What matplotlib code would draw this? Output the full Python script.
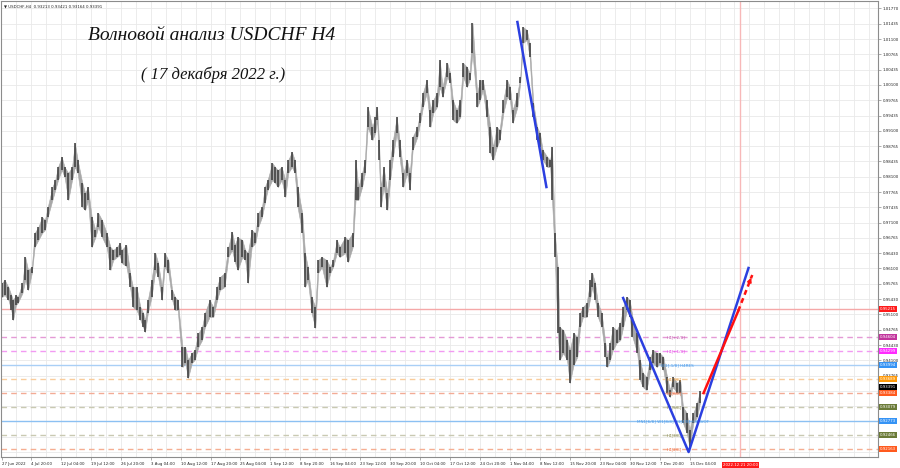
import matplotlib
matplotlib.use("Agg")
import matplotlib.pyplot as plt

# H4 candle ranges (bar index from the left edge, high, low)
bars = [2, 5, 9, 12, 14, 17, 19, 24, 27, 30,
        34, 37, 41, 45, 48, 51, 56, 59, 62, 66,
        69, 73, 77, 80, 83, 88, 91, 94, 98, 102,
        105, 109, 114, 118, 121, 125, 128, 130, 135, 139,
        142, 146, 150, 153, 155, 158, 162, 166, 169, 173,
        176, 180, 184, 187, 190, 195, 198, 201, 205, 208,
        212, 216, 219, 224, 228, 232, 235, 240, 244, 248,
        251, 254, 259, 262, 265, 269, 273, 276, 280, 283,
        286, 291, 294, 297, 301, 305, 308, 312, 315, 318,
        323, 326, 329, 333, 337, 340, 344, 349, 353, 356,
        360, 363, 369, 372, 377, 380, 383, 387, 390, 393,
        398, 401, 403, 405, 407, 410, 414, 417, 420, 424,
        427, 431, 435, 438, 441, 446, 449, 452, 456, 460,
        463, 467, 470, 473, 478, 481, 484, 488, 492, 495,
        499, 502, 505, 510, 513, 516, 520, 524, 527, 531,
        534, 538, 542, 545, 548, 553, 556, 559, 563, 566,
        570, 574, 577, 580, 585, 588, 590, 593, 596, 598,
        602, 606, 609, 613, 617, 620, 623, 627, 631, 633,
        636, 639, 643, 647, 649, 652, 655, 659, 663, 666,
        670, 673, 676, 681, 684, 687, 691, 695, 698, 702,
        705, 709, 713, 716, 719, 724, 727, 730, 734, 737,
        741, 745, 748]

highs = [0.95784, 0.95849, 0.95696, 0.95522, 0.95413, 0.95522, 0.95478, 0.95784, 0.96350, 0.96067,
         0.96132, 0.96874, 0.97004, 0.97222, 0.97157, 0.97440, 0.97876, 0.98029, 0.98312, 0.98530,
         0.98312, 0.98182, 0.98312, 0.98836, 0.98465, 0.97964, 0.97746, 0.97876, 0.97222, 0.96939,
         0.97310, 0.97157, 0.96874, 0.96568, 0.96503, 0.96568, 0.96656, 0.96503, 0.96612, 0.96002,
         0.95696, 0.95696, 0.95260, 0.95130, 0.94977, 0.95413, 0.95849, 0.96438, 0.96220, 0.95696,
         0.96438, 0.96285, 0.95631, 0.95478, 0.95413, 0.94388, 0.94388, 0.94105, 0.94258, 0.94323,
         0.94694, 0.94824, 0.95130, 0.95413, 0.95260, 0.95696, 0.95914, 0.96002, 0.96568, 0.96895,
         0.96612, 0.96786, 0.96721, 0.96503, 0.96438, 0.96939, 0.96874, 0.97310, 0.97440, 0.97876,
         0.98029, 0.98400, 0.98312, 0.98247, 0.98312, 0.98029, 0.98465, 0.98639, 0.98465, 0.97876,
         0.97310, 0.96438, 0.96132, 0.95478, 0.95260, 0.96285, 0.96350, 0.96285, 0.96132, 0.96285,
         0.96721, 0.96568, 0.96786, 0.96721, 0.96874, 0.98465, 0.97876, 0.98182, 0.98465, 0.99620,
         0.99184, 0.99402, 0.99620, 0.98901, 0.97876, 0.98312, 0.97746, 0.98465, 0.98901, 0.99402,
         0.98901, 0.98182, 0.98465, 0.98182, 0.98966, 0.99184, 0.99490, 0.99926, 1.00209, 0.99555,
         0.99773, 0.99926, 1.00645, 1.00056, 1.00580, 1.00362, 0.99773, 0.99555, 0.99773, 1.00580,
         1.00492, 1.00362, 1.01452, 0.99926, 1.00209, 1.00209, 0.99773, 0.99184, 0.98748, 0.99184,
         0.99119, 0.99773, 1.00209, 1.00056, 0.99555, 0.99926, 1.00274, 1.01364, 1.01299, 1.01016,
         0.99708, 0.99184, 0.99054, 0.98683, 0.98530, 0.98465, 0.98748, 0.96874, 0.96132, 0.94824,
         0.94759, 0.94541, 0.94323, 0.94694, 0.94606, 0.95130, 0.95260, 0.95348, 0.95849, 0.96002,
         0.95784, 0.95348, 0.95130, 0.94476, 0.94170, 0.94476, 0.94824, 0.94759, 0.94912, 0.95260,
         0.95478, 0.95413, 0.95042, 0.94694, 0.94105, 0.93822, 0.93734, 0.94170, 0.94323, 0.94258,
         0.94258, 0.94170, 0.93734, 0.93451, 0.93734, 0.93604, 0.93669, 0.93080, 0.92950, 0.92579,
         0.92950, 0.93168, 0.93421]

lows = [0.95478, 0.95522, 0.95413, 0.95195, 0.94977, 0.95304, 0.95348, 0.95566, 0.95849, 0.95631,
        0.96002, 0.96568, 0.96721, 0.96874, 0.96939, 0.97222, 0.97593, 0.97811, 0.98029, 0.98247,
        0.98094, 0.97593, 0.98029, 0.98312, 0.98182, 0.97440, 0.97375, 0.97593, 0.96568, 0.96786,
        0.97004, 0.96786, 0.96568, 0.96067, 0.96285, 0.96350, 0.96394, 0.96220, 0.96154, 0.95696,
        0.95260, 0.95195, 0.94977, 0.94824, 0.94715, 0.95130, 0.95478, 0.96067, 0.95914, 0.95413,
        0.96132, 0.96002, 0.95413, 0.95195, 0.95195, 0.93952, 0.94040, 0.93713, 0.94040, 0.94105,
        0.94388, 0.94541, 0.94824, 0.95042, 0.95042, 0.95413, 0.95631, 0.95696, 0.96350, 0.96503,
        0.96241, 0.96067, 0.96350, 0.96285, 0.95784, 0.96568, 0.96656, 0.97004, 0.97222, 0.97528,
        0.97811, 0.98029, 0.97964, 0.97876, 0.98029, 0.97658, 0.98182, 0.98312, 0.98182, 0.97440,
        0.96874, 0.95696, 0.95849, 0.95130, 0.94803, 0.96002, 0.96132, 0.95696, 0.96002, 0.96132,
        0.96438, 0.96350, 0.96438, 0.96241, 0.96568, 0.97593, 0.97593, 0.97876, 0.98182, 0.99184,
        0.98901, 0.99054, 0.99337, 0.98465, 0.97440, 0.97876, 0.97375, 0.98029, 0.98530, 0.99054,
        0.98530, 0.97876, 0.98182, 0.97811, 0.98683, 0.98966, 0.99272, 0.99620, 0.99926, 0.99184,
        0.99490, 0.99620, 1.00056, 0.99838, 1.00274, 1.00144, 0.99337, 0.99272, 0.99402, 1.00274,
        1.00056, 1.00209, 1.00798, 0.99620, 0.99773, 0.99991, 0.99402, 0.98618, 0.98465, 0.98748,
        0.98901, 0.99490, 0.99838, 0.99773, 0.99272, 0.99620, 1.00144, 1.01016, 1.01081, 1.00710,
        0.99402, 0.98901, 0.98748, 0.98465, 0.98312, 0.98312, 0.97593, 0.96350, 0.94694, 0.94105,
        0.94258, 0.94105, 0.93604, 0.93996, 0.94170, 0.94824, 0.95042, 0.95042, 0.95478, 0.95696,
        0.95413, 0.95042, 0.94824, 0.94170, 0.93952, 0.94105, 0.94323, 0.94476, 0.94541, 0.94824,
        0.95195, 0.95042, 0.94606, 0.94258, 0.93669, 0.93516, 0.93451, 0.93887, 0.94040, 0.93952,
        0.94040, 0.93887, 0.93386, 0.93298, 0.93516, 0.93386, 0.93386, 0.92732, 0.92514, 0.92208,
        0.92732, 0.92862, 0.93164]

# price scale labels on the right (the lower ones sit under the level boxes)
price_ticks = [1.01770, 1.01435, 1.01100, 1.00765, 1.00435, 1.00100, 0.99765, 0.99435,
               0.99100, 0.98765, 0.98435, 0.98100, 0.97765, 0.97435, 0.97100, 0.96765,
               0.96430, 0.96100, 0.95765, 0.95430, 0.95100, 0.94765, 0.94430, 0.94100,
               0.93765]
grid_prices = price_ticks + [0.93430, 0.93100, 0.92765, 0.92430, 0.92100]

# time axis labels (one every 32 H4 bars)
date_labels = ["27 Jun 2022", "4 Jul 20:00", "12 Jul 04:00", "19 Jul 12:00", "26 Jul 20:00",
               "3 Aug 04:00", "10 Aug 12:00", "17 Aug 20:00", "25 Aug 04:00", "1 Sep 12:00",
               "8 Sep 20:00", "16 Sep 04:00", "23 Sep 12:00", "30 Sep 20:00", "10 Oct 04:00",
               "17 Oct 12:00", "24 Oct 20:00", "1 Nov 04:00", "8 Nov 12:00", "15 Nov 20:00",
               "23 Nov 04:00", "30 Nov 12:00", "7 Dec 20:00", "15 Dec 04:00"]
date_bars = [2] + [33 + 32 * i for i in range(len(date_labels) - 1)]

# Murrey math levels
level_prices = [0.94604, 0.94299, 0.93994, 0.93689, 0.93384, 0.93079, 0.92773, 0.92466, 0.92163]
level_names = ["H4[+2/8]", "H4[+1/8]", "W1[-1/8] H4RES", "H4[7/8]", "H4[6/8]", "H4[5/8]",
               "MN1[6/8] W1[8/8] D1[4/8] H4PIVOT", "H4[3/8]", "H4[2/8]"]
level_name_bars = [713, 713, 706, 713, 713, 713, 681, 713, 713]
level_line_colors = ["#e49ad6", "#f29af2", "#a9cff6", "#f9cc9c", "#f3ab95", "#c9c9b2",
                     "#8cc0f2", "#c9c9b2", "#f5ae92"]
level_dashed = [True, True, False, True, True, True, False, True, True]
level_text_colors = ["#c458ae", "#e548e5", "#4b9be9", "#e89a3a", "#f06a3c", "#8a8a4c",
                     "#4b9be9", "#8a8a4c", "#f06a3c"]
level_box_colors = ["#c2369d", "#ff2cff", "#3593f5", "#ff9a0a", "#ff5a1e", "#6b7b38",
                    "#3593f5", "#6b7b38", "#ff5a1e"]

red_level = 0.95215
last_price = 0.93391
future_bar = 791
future_label = "2022.12.21 20:00"

# drawn objects (bar, price)
trend1_bars, trend1_prices = [553, 584], [1.01473, 0.97876]
vee_bars, vee_prices = [666, 736, 800], [0.95457, 0.92099, 0.96111]
arrow_solid_bars, arrow_solid_prices = [752, 789], [0.93386, 0.95173]
arrow_dash_bars, arrow_dash_prices = [789, 804], [0.95173, 0.95958]

fig = plt.figure(figsize=(9, 4.68), dpi=100)
ax = fig.add_axes([1 / 900, 11 / 468, 877 / 900, 456 / 468])
ax.set_xlim(1.07, 938.4)
ax.set_ylim(0.91991, 1.01931)

# grid
for b in range(1, 940, 16):
    ax.axvline(b, color="#e9e9e9", lw=0.6, zorder=0)
for p in grid_prices:
    ax.axhline(p, color="#e9e9e9", lw=0.6, zorder=0)

# levels
for p, c, d in zip(level_prices, level_line_colors, level_dashed):
    ax.axhline(p, color=c, lw=1.0, ls=(0, (4, 3)) if d else "-", zorder=1)
ax.axhline(red_level, color="#f5a8a8", lw=1.0, zorder=1)
ax.axvline(future_bar, color="#f7b8b8", lw=1.0, zorder=1)

# candles: light wick band plus darker bodies
ax.fill_between(bars, lows, highs, color="#a8a8a8", lw=0.4, edgecolor="#a8a8a8", zorder=2)
ax.vlines(bars, lows, highs, color="#3a3a3a", lw=1.1, zorder=2)

# level captions
for p, name, xb, tc in zip(level_prices, level_names, level_name_bars, level_text_colors):
    ax.text(xb, p, name, color=tc, fontsize=3, va="center", ha="left", zorder=3)

# trend lines and forecast arrow
ax.plot(trend1_bars, trend1_prices, color="#2b3fe0", lw=1.8, zorder=4)
ax.plot(vee_bars, vee_prices, color="#2b3fe0", lw=1.8, zorder=4)
ax.plot(arrow_solid_bars, arrow_solid_prices, color="#ff1010", lw=1.8, zorder=4)
ax.plot(arrow_dash_bars, arrow_dash_prices, color="#ff1010", lw=1.8, ls=(0, (2, 1.5)), zorder=4)
head_from = (arrow_dash_bars[0] + 0.7 * (arrow_dash_bars[1] - arrow_dash_bars[0]),
             arrow_dash_prices[0] + 0.7 * (arrow_dash_prices[1] - arrow_dash_prices[0]))
ax.annotate("", xy=(arrow_dash_bars[1], arrow_dash_prices[1]), xytext=head_from,
            arrowprops=dict(arrowstyle="-|>", color="#ff1010", lw=1.2, mutation_scale=6),
            zorder=4)

# axes styling
for s in ax.spines.values():
    s.set_color("#8c8c8c")
    s.set_linewidth(0.8)
ax.yaxis.tick_right()
ax.set_yticks(price_ticks)
ax.set_yticklabels([f"{p:.5f}" for p in price_ticks])
ax.set_xticks(date_bars)
ax.set_xticklabels(date_labels, ha="left")
ax.tick_params(axis="both", labelsize=2.8, length=2, width=0.5, color="#8c8c8c",
               labelcolor="#222222", pad=1.5)

# coloured price boxes on the right scale
ytr = ax.get_yaxis_transform()
box = dict(boxstyle="square,pad=0.25", ec="none")
for p, bc in zip(level_prices, level_box_colors):
    ax.text(1.0025, p, f"{p:.5f}", transform=ytr, fontsize=2.8, color="white", va="center",
            ha="left", bbox=dict(box, fc=bc), clip_on=False, zorder=6)
ax.text(1.0025, last_price + 0.00125, f"{last_price:.5f}", transform=ytr, fontsize=2.8,
        color="white", va="center", ha="left", bbox=dict(box, fc="#000000"), clip_on=False,
        zorder=5)
ax.text(1.0025, red_level, f"{red_level:.5f}", transform=ytr, fontsize=2.8, color="white",
        va="center", ha="left", bbox=dict(box, fc="#ff1a1a"), clip_on=False, zorder=6)
ax.text(future_bar, -0.017, future_label, transform=ax.get_xaxis_transform(), fontsize=2.8,
        color="white", va="center", ha="center", bbox=dict(box, fc="#ff1a1a"),
        clip_on=False, zorder=6)

# header and titles
ax.text(0.003, 0.992, "\u25bc USDCHF,H4  0.93213 0.93421 0.93164 0.93391", transform=ax.transAxes,
        fontsize=2.8, va="top", ha="left", color="#222222")
fig.text(212 / 900, 1 - 35 / 468, "Волновой анализ USDCHF H4", fontsize=14,
         family="Liberation Serif", style="italic", ha="center", va="center", color="#111111")
fig.text(213 / 900, 1 - 75 / 468, "( 17 декабря 2022 г.)", fontsize=12,
         family="Liberation Serif", style="italic", ha="center", va="center", color="#111111")

fig.savefig("out.png", dpi=100)
